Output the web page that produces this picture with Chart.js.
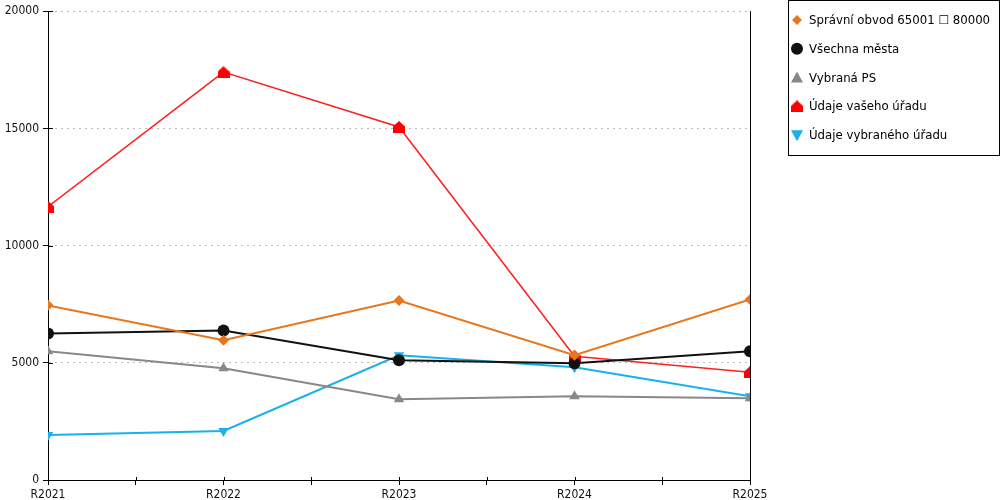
<!DOCTYPE html>
<html>
<head>
<meta charset="utf-8">
<script src="https://cdn.jsdelivr.net/npm/chart.js@4/dist/chart.umd.min.js"></script>
<style>
  html, body { margin: 0; padding: 0; background: #fff; }
  #wrap { width: 1000px; height: 500px; }
</style>
</head>
<body>
<div id="wrap"><canvas id="chart" width="1000" height="500"></canvas></div>
<script>
const categories = ['R2021', 'R2022', 'R2023', 'R2024', 'R2025'];
const yTicks = [0, 5000, 10000, 15000, 20000];

const spravniObvod = [7450, 5960, 7660, 5320, 7700];
const vsechnaMesta = [6250, 6380, 5110, 4980, 5490];
const vybranaPS = [5490, 4770, 3450, 3570, 3490];
const vasUrad = [11660, 17400, 15060, 5280, 4600];
const vybranyUrad = [1920, 2090, 5320, 4810, 3570];

const TICK_FONT = '"DejaVu Sans Condensed", "DejaVu Sans", sans-serif';
const LEGEND_FONT = '"DejaVu Sans", sans-serif';

// red "house" marker
function houseMarker(color) {
  const c = document.createElement('canvas');
  c.width = 12; c.height = 12;
  const g = c.getContext('2d');
  g.fillStyle = color;
  g.beginPath();
  g.moveTo(0, 12); g.lineTo(0, 5.5); g.lineTo(6, 0); g.lineTo(12, 5.5); g.lineTo(12, 12);
  g.closePath();
  g.fill();
  return c;
}
const house = houseMarker('#ff0000');

function pts(arr) {
  return arr.map((v, i) => ({ x: i, y: v }));
}

const series = [
  { label: 'Správní obvod 65001 \u2610 80000', data: spravniObvod, color: '#e8761c', style: 'rectRot', r: 5.5, rot: 0 },
  { label: 'Všechna města', data: vsechnaMesta, color: '#111111', style: 'circle', r: 6, rot: 0 },
  { label: 'Vybraná PS', data: vybranaPS, color: '#888888', style: 'triangle', r: 6, rot: 0 },
  { label: 'Údaje vašeho úřadu', data: vasUrad, color: '#ff2020', style: house, r: 6, rot: 0 },
  { label: 'Údaje vybraného úřadu', data: vybranyUrad, color: '#1ab0ec', style: 'triangle', r: 6, rot: 180 }
];

const datasets = series.map(s => ({
  label: s.label,
  data: pts(s.data),
  borderColor: s.color,
  backgroundColor: s === series[3] ? '#ff0000' : s.color,
  borderWidth: s === series[3] ? 1.5 : 2,
  pointStyle: s.style,
  pointRadius: s.r,
  pointHoverRadius: s.r,
  pointRotation: s.rot,
  pointBorderWidth: 0,
  tension: 0
}));

const frame = {
  id: 'frame',
  beforeDatasetsDraw(chart) {
    const ctx = chart.ctx;
    const a = chart.chartArea;
    const xs = chart.scales.x, ys = chart.scales.y;
    ctx.save();
    ctx.strokeStyle = '#000';
    ctx.lineWidth = 1;
    ctx.beginPath();
    // right vertical line
    ctx.moveTo(Math.round(a.right) + 0.5, a.top);
    ctx.lineTo(Math.round(a.right) + 0.5, a.bottom);
    // inner tick stubs
    yTicks.forEach(v => {
      const y = Math.round(ys.getPixelForValue(v)) + 0.5;
      ctx.moveTo(a.left, y); ctx.lineTo(a.left + 5, y);
    });
    for (let v = 0; v <= 4; v += 0.5) {
      const x = Math.round(xs.getPixelForValue(v)) + 0.5;
      ctx.moveTo(x, a.bottom); ctx.lineTo(x, a.bottom - 3);
    }
    ctx.stroke();
    ctx.restore();
  },
  afterDraw(chart) {
    const ctx = chart.ctx;
    ctx.save();
    ctx.strokeStyle = '#000';
    ctx.lineWidth = 1;
    // legend
    ctx.strokeRect(788.5, 0.5, 211, 155);
    ctx.font = '11.75px ' + LEGEND_FONT;
    ctx.textBaseline = 'middle';
    series.forEach((s, i) => {
      const y = 20 + i * 28.8;
      const x = 797;
      ctx.fillStyle = s === series[3] ? '#ff0000' : s.color;
      ctx.beginPath();
      if (s.style === 'circle') {
        ctx.arc(x, y, 6, 0, Math.PI * 2);
        ctx.fill();
      } else if (s.style === 'rectRot') {
        ctx.moveTo(x, y - 5); ctx.lineTo(x + 5, y); ctx.lineTo(x, y + 5); ctx.lineTo(x - 5, y);
        ctx.closePath(); ctx.fill();
      } else if (s.style === 'triangle') {
        const d = s.rot === 180 ? -1 : 1;
        ctx.moveTo(x - 6, y + 5 * d); ctx.lineTo(x + 6, y + 5 * d); ctx.lineTo(x, y - 6 * d);
        ctx.closePath(); ctx.fill();
      } else {
        ctx.drawImage(house, x - 6, y - 6);
      }
      ctx.fillStyle = '#000';
      ctx.fillText(s.label, 809, y + 1);
    });
    ctx.restore();
  }
};

new Chart(document.getElementById('chart'), {
  type: 'line',
  data: { datasets },
  options: {
    responsive: false,
    animation: false,
    devicePixelRatio: 1,
    layout: { padding: { top: 10, right: 250, left: 0, bottom: 0 } },
    plugins: {
      legend: { display: false },
      tooltip: { enabled: false }
    },
    scales: {
      x: {
        type: 'linear',
        min: 0,
        max: 4,
        afterFit: ax => { ax.height = 20; },
        afterBuildTicks: ax => {
          const t = [];
          for (let v = 0; v <= 4; v += 0.5) t.push({ value: v });
          ax.ticks = t;
        },
        ticks: {
          autoSkip: false,
          maxRotation: 0,
          padding: 3,
          color: '#111',
          font: { family: TICK_FONT, size: 12 },
          callback: v => Number.isInteger(v) ? categories[v] : ''
        },
        grid: { drawOnChartArea: false, color: '#000', tickLength: 5 },
        border: { color: '#000' }
      },
      y: {
        min: 0,
        max: 20000,
        afterFit: ax => { ax.width = 48; },
        afterBuildTicks: ax => { ax.ticks = yTicks.map(v => ({ value: v })); },
        ticks: {
          color: '#111',
          padding: 4,
          font: { family: TICK_FONT, size: 12 },
          callback: v => String(v)
        },
        grid: {
          color: c => c.tick && c.tick.value === 0 ? 'rgba(0,0,0,0)' : '#bdbdbd',
          tickColor: '#000',
          tickLength: 5,
          drawTicks: true
        },
        border: { color: '#000', dash: [2, 4] }
      }
    }
  },
  plugins: [frame]
});
</script>
</body>
</html>
